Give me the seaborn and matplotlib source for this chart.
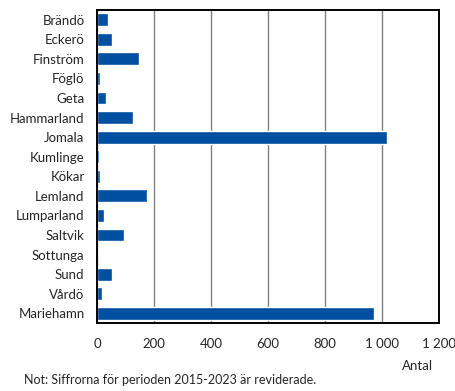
import matplotlib
matplotlib.use("Agg")
import matplotlib.pyplot as plt
import seaborn as sns
import pandas as pd

kommuner = ["Brändö", "Eckerö", "Finström", "Föglö", "Geta", "Hammarland", "Jomala",
            "Kumlinge", "Kökar", "Lemland", "Lumparland", "Saltvik", "Sottunga",
            "Sund", "Vårdö", "Mariehamn"]
antal = [40, 54, 149, 11, 33, 125, 1017, 8, 11, 177, 23, 93, 0, 54, 19, 972]
xticks = [0, 200, 400, 600, 800, 1000, 1200]
xtick_labels = ["0", "200", "400", "600", "800", "1 000", "1 200"]

df = pd.DataFrame({"kommun": kommuner, "antal": antal})

sns.set_style("white")
plt.rcParams["font.family"] = ["Lato", "DejaVu Sans"]

fig = plt.figure(figsize=(4.55, 3.91), dpi=100)
ax = fig.add_axes([97 / 455, 1 - 323 / 391, 342 / 455, 313 / 391])

sns.barplot(data=df, y="kommun", x="antal", orient="h", color="#004fa0",
            saturation=1, width=0.66, ax=ax)

ax.set_xlim(0, 1200)
ax.set_ylim(15.5, -0.5)
ax.set_xticks(xticks)
ax.set_xticklabels(xtick_labels, fontsize=9.5)
ax.tick_params(axis="y", labelsize=9.5, length=0, pad=9)
ax.tick_params(axis="x", length=0, pad=11)
ax.set_xlabel("")
ax.set_ylabel("")
ax.xaxis.grid(True, color="#808080", linewidth=1)
ax.set_axisbelow(True)
for s in ax.spines.values():
    s.set_visible(True)
    s.set_color("black")
    s.set_linewidth(1.4)

fig.text(418 / 455, 1 - 366 / 391, "Antal", fontsize=9.5, ha="center", va="center")
fig.text(24 / 455, 1 - 380 / 391, "Not: Siffrorna för perioden 2015-2023 är reviderade.",
         fontsize=9, ha="left", va="center")

fig.savefig("out.png", dpi=100)
